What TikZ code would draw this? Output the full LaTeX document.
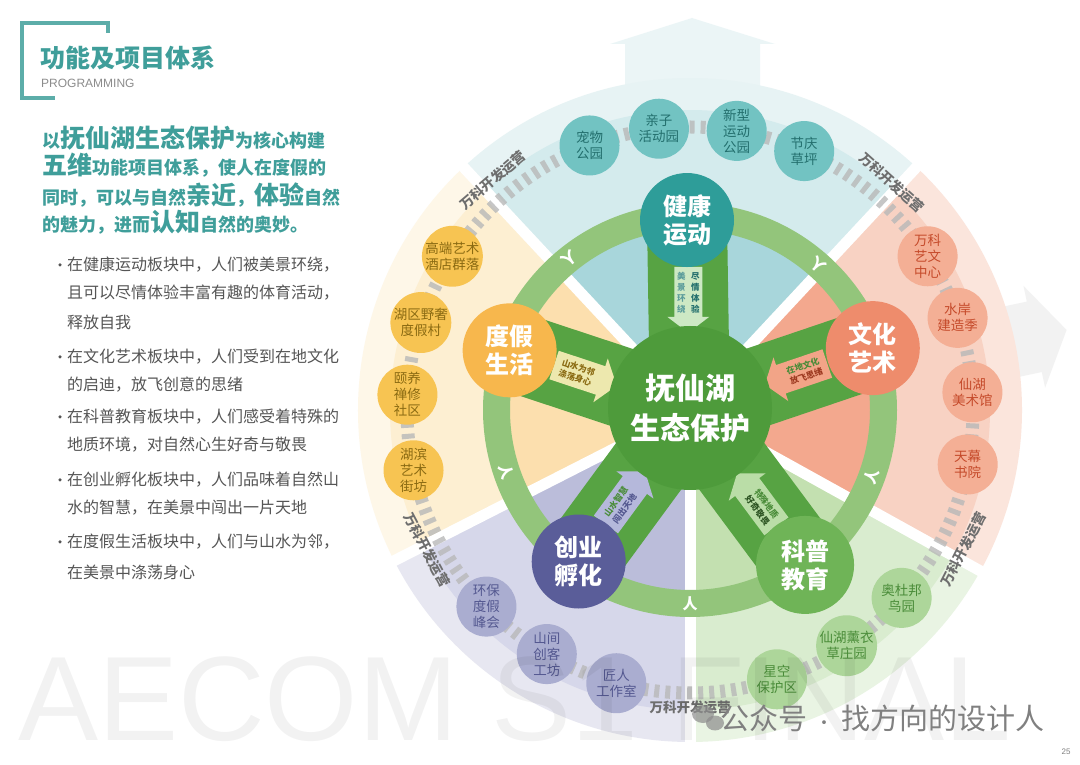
\documentclass[tikz,border=0pt]{standalone}
\usepackage{fontspec}
\setmainfont{Noto Sans CJK SC}
\newfontfamily\latinsans{Liberation Sans}
\usetikzlibrary{calc}
\newcommand\fs[2]{\fontsize{#1}{#2}\selectfont}
\definecolor{ttl}{HTML}{3F9E9A}
\definecolor{bodyg}{HTML}{555555}
\definecolor{vkg}{HTML}{6E6E6E}
\definecolor{bIn}{HTML}{A8D6DB}\definecolor{bMid}{HTML}{D4EBED}\definecolor{bOut}{HTML}{E7F3F4}
\definecolor{rIn}{HTML}{F3A88E}\definecolor{rMid}{HTML}{F8D2C3}\definecolor{rOut}{HTML}{FBE5DC}
\definecolor{gIn}{HTML}{C3E0B0}\definecolor{gMid}{HTML}{D9ECCF}\definecolor{gOut}{HTML}{E9F4E3}
\definecolor{pIn}{HTML}{BBBDDA}\definecolor{pMid}{HTML}{D6D7EA}\definecolor{pOut}{HTML}{E7E7F1}
\definecolor{yIn}{HTML}{FCDFAE}\definecolor{yMid}{HTML}{FDEFD2}\definecolor{yOut}{HTML}{FEF7E8}
\definecolor{ringg}{HTML}{93C57B}
\definecolor{spokeg}{HTML}{57A343}
\definecolor{coreg}{HTML}{4E9B3B}
\definecolor{bigH}{HTML}{2E9D99}\definecolor{bigW}{HTML}{EE8C6C}\definecolor{bigK}{HTML}{6FB457}
\definecolor{bigB}{HTML}{5A5D99}\definecolor{bigD}{HTML}{F7B74D}
\definecolor{smH}{HTML}{72C3C2}\definecolor{smHt}{HTML}{236F6D}
\definecolor{smW}{HTML}{F4AF95}\definecolor{smWt}{HTML}{C54A2A}
\definecolor{smK}{HTML}{ADD69A}\definecolor{smKt}{HTML}{4A8C39}
\definecolor{smB}{HTML}{AAADD0}\definecolor{smBt}{HTML}{545890}
\definecolor{smD}{HTML}{F7C452}\definecolor{smDt}{HTML}{8A6A12}
\definecolor{arD}{HTML}{EDE8AE}\definecolor{arW}{HTML}{F2A487}
\definecolor{arK}{HTML}{BADDA7}\definecolor{arB}{HTML}{B5B8DB}\definecolor{arH}{HTML}{CDE8C4}
\newcommand\sect[4]{\fill[#4] (C) -- ++(#1:#3) arc[start angle=#1, end angle=#2, radius=#3] -- cycle;}
\begin{document}
\begin{tikzpicture}[x=1pt,y=1pt,
  bigc/.style={circle, inner sep=0pt, minimum size=94pt, text=white, align=center, font=\bfseries\fs{24}{28}},
  smallc/.style={circle, inner sep=0pt, minimum size=60pt, align=center, font=\fs{13.5}{16}},
  vk/.style={font=\bfseries\fs{13.5}{14}, text=vkg, inner sep=1pt},
  ren/.style={font=\bfseries\fs{15}{15}, text=white, inner sep=0pt},
  bul/.style={anchor=west, font=\fs{16}{18}, text=bodyg, inner sep=0pt},
  dot/.style={circle, fill=bodyg, inner sep=0pt, minimum size=3.5pt},
  para/.style={anchor=base west, inner sep=0pt, text=ttl, font=\bfseries},
  atext/.style={font=\bfseries\fs{8.5}{11}, align=center, inner sep=0pt}
]
\useasboundingbox (0,0) rectangle (1080,764);
\fill[white] (0,0) rectangle (1080,764);
\coordinate (C) at (690,354);

% faint outer arrows
\fill[bMid, opacity=0.45] (625,660) -- (625,720) -- (610,720) -- (692,746) -- (775,720) -- (760,720) -- (760,660) -- cycle;
\begin{scope}[shift={(C)}, rotate=12]
  \fill[black!5] (318,-36) -- (352,-36) -- (352,-52) -- (385,0) -- (352,52) -- (352,36) -- (318,36) -- cycle;
\end{scope}

% sectors
\sect{47}{133}{332}{bOut}\sect{-29}{47}{332}{rOut}\sect{-90}{-29}{332}{gOut}
\sect{-153}{-90}{332}{pOut}\sect{133}{207}{332}{yOut}
\sect{47}{133}{300}{bMid}\sect{-29}{47}{300}{rMid}\sect{-90}{-29}{300}{gMid}
\sect{-153}{-90}{300}{pMid}\sect{133}{207}{300}{yMid}
\sect{47}{133}{193}{bIn}\sect{-29}{47}{193}{rIn}\sect{-90}{-29}{193}{gIn}
\sect{-153}{-90}{193}{pIn}\sect{133}{207}{193}{yIn}

% white separators
\foreach \a in {47,133,207,270,331}
  \draw[white, line width=11pt] (C) -- ++(\a:342);

% dashed chain
\draw[black!28, opacity=0.8, line width=13pt, dash pattern=on 5pt off 6pt] (C) circle[radius=283];

% ring
\draw[ringg, line width=27pt] (C) circle[radius=193.5];
\path (C) ++(128.5:193.5) node[ren, rotate=218.5] (r1) {人};
\path (C) ++(48.7:193.5) node[ren, rotate=138.7] (r2) {人};
\path (C) ++(-20:193.5) node[ren, rotate=70] (r3) {人};
\path (C) ++(-90:193.5) node[ren, rotate=0] (r4) {人};
\path (C) ++(198.7:193.5) node[ren, rotate=288.7] (r5) {人};

% big circle positions
\path (C) ++(90.9:190) coordinate (pH);
\path (C) ++(18.7:193) coordinate (pW);
\path (C) ++(-53.4:193) coordinate (pK);
\path (C) ++(-126.3:188) coordinate (pB);
\path (C) ++(161.7:190) coordinate (pD);

% spokes
\foreach \p in {pH,pW,pK,pB,pD}
  \draw[spokeg, line width=80pt] (C) -- (\p);

% inner arrows
\begin{scope}[shift={($(pD)!0.42!(C)$)}, rotate=-18.3]
  \fill[arD] (-33,-15) -- (16,-15) -- (16,-23) -- (33,0) -- (16,23) -- (16,15) -- (-33,15) -- cycle;
  \node[atext, transform shape] (tD) at (-9,0) {\color{smDt}山水为邻\\\color{smDt}涤荡身心};
\end{scope}
\begin{scope}[shift={($(pW)!0.42!(C)$)}, rotate=18.7]
  \fill[arW] (33,-15) -- (-16,-15) -- (-16,-23) -- (-33,0) -- (-16,23) -- (-16,15) -- (33,15) -- cycle;
  \node[atext, transform shape] (tW) at (9,0) {\color{smKt}在地文化\\\color{smWt!80!black}放飞思绪};
\end{scope}
\begin{scope}[shift={($(pK)!0.42!(C)$)}, rotate=-53.4]
  \fill[arK] (33,-15) -- (-16,-15) -- (-16,-23) -- (-33,0) -- (-16,23) -- (-16,15) -- (33,15) -- cycle;
  \node[atext, transform shape] (tK) at (9,0) {\color{smKt}特殊地质\\\color{smKt!60!black}好奇敬畏};
\end{scope}
\begin{scope}[shift={($(pB)!0.42!(C)$)}, rotate=53.7]
  \fill[arB] (-33,-15) -- (16,-15) -- (16,-23) -- (33,0) -- (16,23) -- (16,15) -- (-33,15) -- cycle;
  \node[atext, transform shape] (tB) at (-9,0) {\color{smKt}山水智慧\\\color{smBt}闯出天地};
\end{scope}
\begin{scope}[shift={($(pH)!0.42!(C)$)}, rotate=-90]
  \fill[arH] (-33,-14) -- (17,-14) -- (17,-21) -- (33,0) -- (17,21) -- (17,14) -- (-33,14) -- cycle;
\end{scope}
\node[atext, text=smH!80!black] (tH1) at ($($(pH)!0.42!(C)$)+(-7,7)$) {美\\景\\环\\绕};
\node[atext, text=smHt] (tH2) at ($($(pH)!0.42!(C)$)+(7,7)$) {尽\\情\\体\\验};

% centre and big circles
\node[circle, fill=coreg, minimum size=164pt, inner sep=0pt, text=white, align=center, font=\bfseries\fs{30}{40}] (core) at (690,356) {抚仙湖\\生态保护};
\node[bigc, fill=bigH] (nH) at (pH) {健康\\运动};
\node[bigc, fill=bigW] (nW) at (pW) {文化\\艺术};
\node[bigc, fill=bigK, minimum size=98pt] (nK) at (pK) {科普\\教育};
\node[bigc, fill=bigB] (nB) at (pB) {创业\\孵化};
\node[bigc, fill=bigD] (nD) at (pD) {度假\\生活};

% small circles
\path (C) ++(110.8:283) node[smallc, fill=smH, text=smHt] (s1) {宠物\\公园};
\path (C) ++(96.3:283) node[smallc, fill=smH, text=smHt] (s2) {亲子\\活动园};
\path (C) ++(80.5:283) node[smallc, fill=smH, text=smHt] (s3) {新型\\运动\\公园};
\path (C) ++(66.2:283) node[smallc, fill=smH, text=smHt] (s4) {节庆\\草坪};
\path (C) ++(32.9:283) node[smallc, fill=smW, text=smWt] (s5) {万科\\艺文\\中心};
\path (C) ++(19.0:283) node[smallc, fill=smW, text=smWt] (s6) {水岸\\建造季};
\path (C) ++(3.6:283) node[smallc, fill=smW, text=smWt] (s7) {仙湖\\美术馆};
\path (C) ++(-11.1:283) node[smallc, fill=smW, text=smWt] (s8) {天幕\\书院};
\path (C) ++(-41.6:283) node[smallc, fill=smK, text=smKt] (s9) {奥杜邦\\鸟园};
\path (C) ++(-56.4:283) node[smallc, fill=smK, text=smKt] (s10) {仙湖薰衣\\草庄园};
\path (C) ++(-72.1:283) node[smallc, fill=smK, text=smKt] (s11) {星空\\保护区};
\path (C) ++(-105.1:283) node[smallc, fill=smB, text=smBt] (s12) {匠人\\工作室};
\path (C) ++(-120.4:283) node[smallc, fill=smB, text=smBt] (s13) {山间\\创客\\工坊};
\path (C) ++(-136:283) node[smallc, fill=smB, text=smBt] (s14) {环保\\度假\\峰会};
\path (C) ++(192.3:283) node[smallc, fill=smD, text=smDt] (s15) {湖滨\\艺术\\街坊};
\path (C) ++(176.9:283) node[smallc, fill=smD, text=smDt] (s16) {颐养\\禅修\\社区};
\path (C) ++(162:283) node[smallc, fill=smD, text=smDt] (s17) {湖区野奢\\度假村};
\path (C) ++(147.1:283) node[smallc, fill=smD, text=smDt] (s18) {高端艺术\\酒店群落};

% operator labels
\path (C) ++(130.6:303) node[vk, rotate=40.6] (v1) {万科开发运营};
\path (C) ++(48.3:304) node[vk, rotate=-41.7] (v2) {万科开发运营};
\path (C) ++(-27:307) node[vk, rotate=63] (v3) {万科开发运营};
\path (C) ++(208:298) node[vk, rotate=-62] (v4) {万科开发运营};
\path (C) ++(-90:297) node[vk, rotate=0] (v5) {万科开发运营};

% left header
\draw[ttl!85, line width=3.5pt] (108,731) -- (108,741) -- (22,741) -- (22,666) -- (55,666);
\node[anchor=west, inner sep=0pt, font=\bfseries\fs{25}{25}, text=ttl] (title) at (40,706) {功能及项目体系};
\node[anchor=west, inner sep=0pt, font=\latinsans\fs{12}{12}, text=black!45] (prog) at (41,681) {PROGRAMMING};

\node[para] (p1) at (42,616) {\fs{18}{20}以\fs{25}{27}抚仙湖生态保护\fs{18}{20}为核心构建};
\node[para] (p2) at (42,589) {\fs{25}{27}五维\fs{18}{20}功能项目体系，使人在度假的};
\node[para] (p3) at (42,559) {\fs{18}{20}同时，可以与自然\fs{25}{27}亲近\fs{18}{20}，\fs{25}{27}体验\fs{18}{20}自然};
\node[para] (p4) at (42,532) {\fs{18}{20}的魅力，进而\fs{25}{27}认知\fs{18}{20}自然的奥妙。};

\node[dot] (d1) at (60,499) {};
\node[bul] (b1) at (67,499) {在健康运动板块中，人们被美景环绕，};
\node[bul] (b2) at (67,471) {且可以尽情体验丰富有趣的体育活动，};
\node[bul] (b3) at (67,442) {释放自我};
\node[dot] (d2) at (60,407) {};
\node[bul] (b4) at (67,407) {在文化艺术板块中，人们受到在地文化};
\node[bul] (b5) at (67,379) {的启迪，放飞创意的思绪};
\node[dot] (d3) at (60,347) {};
\node[bul] (b6) at (67,347) {在科普教育板块中，人们感受着特殊的};
\node[bul] (b7) at (67,319) {地质环境，对自然心生好奇与敬畏};
\node[dot] (d4) at (60,284) {};
\node[bul] (b8) at (67,284) {在创业孵化板块中，人们品味着自然山};
\node[bul] (b9) at (67,256) {水的智慧，在美景中闯出一片天地};
\node[dot] (d5) at (60,222) {};
\node[bul] (b10) at (67,222) {在度假生活板块中，人们与山水为邻，};
\node[bul] (b11) at (67,192) {在美景中涤荡身心};

% watermarks
\node[anchor=base west, inner sep=0pt, font=\latinsans\fs{120}{120}, text=black, opacity=0.05] (aecom) at (18,24) {AECOM S1 FINAL};
\fill[black!45, opacity=0.7] (703,50) ellipse[x radius=11, y radius=9];
\fill[black!45, opacity=0.7] (715,41) ellipse[x radius=9, y radius=7.5];
\node[anchor=west, inner sep=0pt, font=\fs{29}{29}, text=black!50] (wm) at (720,46) {公众号\hspace{8pt}{\fs{18}{18}·}\hspace{8pt}找方向的设计人};
\node[inner sep=0pt, font=\latinsans\fs{8}{8}, text=black!50] (pg) at (1066,12) {25};
\end{tikzpicture}
\end{document}
